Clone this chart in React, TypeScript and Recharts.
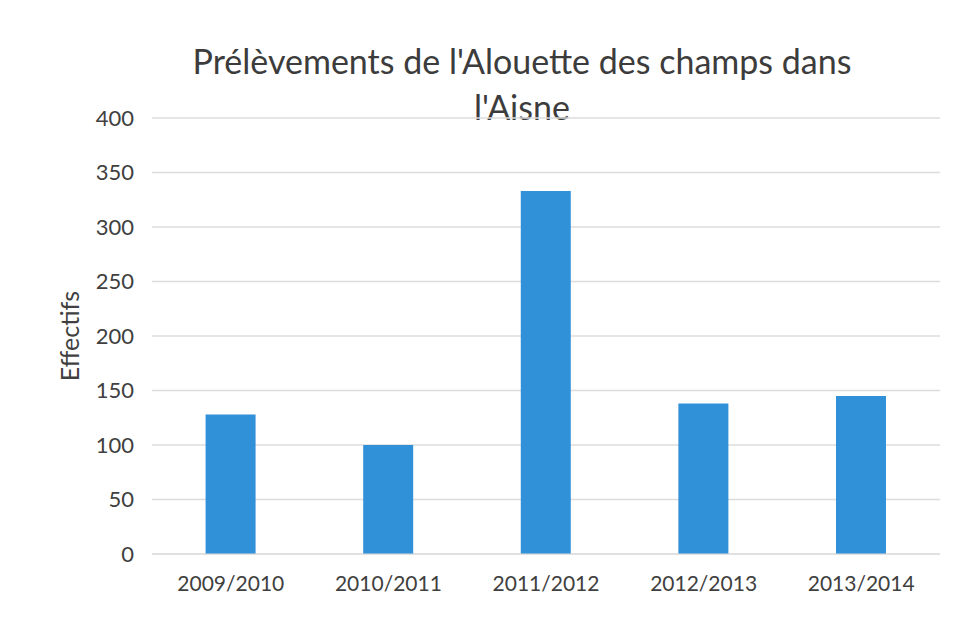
import { BarChart, Bar, XAxis, YAxis, CartesianGrid } from 'recharts';

const seasons = ['2009/2010', '2010/2011', '2011/2012', '2012/2013', '2013/2014'];
const effectifs = [128, 100, 333, 138, 145];
const yTicks = [0, 50, 100, 150, 200, 250, 300, 350, 400];
const titleLines = ["Prélèvements de l'Alouette des champs dans", "l'Aisne"];

const data = seasons.map((season, i) => ({ season, effectifs: effectifs[i] }));

const FONT = 'Lato, "Open Sans", sans-serif';

export default function App() {
  return (
    <div style={{ position: 'relative', width: 942, height: 602, background: '#fff', fontFamily: FONT }}>
      <div
        style={{
          position: 'absolute',
          left: 144,
          width: 740,
          top: 30,
          textAlign: 'center',
          fontSize: 34,
          lineHeight: '46px',
          color: '#3c3c3c',
        }}
      >
        {titleLines.map((line) => (
          <div key={line}>{line}</div>
        ))}
      </div>
      <BarChart
        width={942}
        height={602}
        data={data}
        margin={{ top: 110, right: 10, left: 0, bottom: 0 }}
        barCategoryGap="34%"
      >
        <CartesianGrid vertical={false} stroke="#dcdcdc" strokeWidth={1.5} />
        <XAxis
          dataKey="season"
          height={56}
          axisLine={{ stroke: '#dcdcdc' }}
          tickLine={false}
          tickMargin={16}
          tick={{ fill: '#404040', fontSize: 21, fontFamily: FONT }}
        />
        <YAxis
          width={144}
          domain={[0, 400]}
          ticks={yTicks}
          axisLine={false}
          tickLine={false}
          tickMargin={12}
          tick={{ fill: '#404040', fontSize: 22, fontFamily: FONT }}
          label={{
            value: 'Effectifs',
            angle: -90,
            position: 'insideLeft',
            offset: 62,
            style: { fill: '#404040', fontSize: 25, fontFamily: FONT, textAnchor: 'middle' },
          }}
        />
        <Bar dataKey="effectifs" fill="#3090d8" isAnimationActive={false} />
      </BarChart>
    </div>
  );
}
